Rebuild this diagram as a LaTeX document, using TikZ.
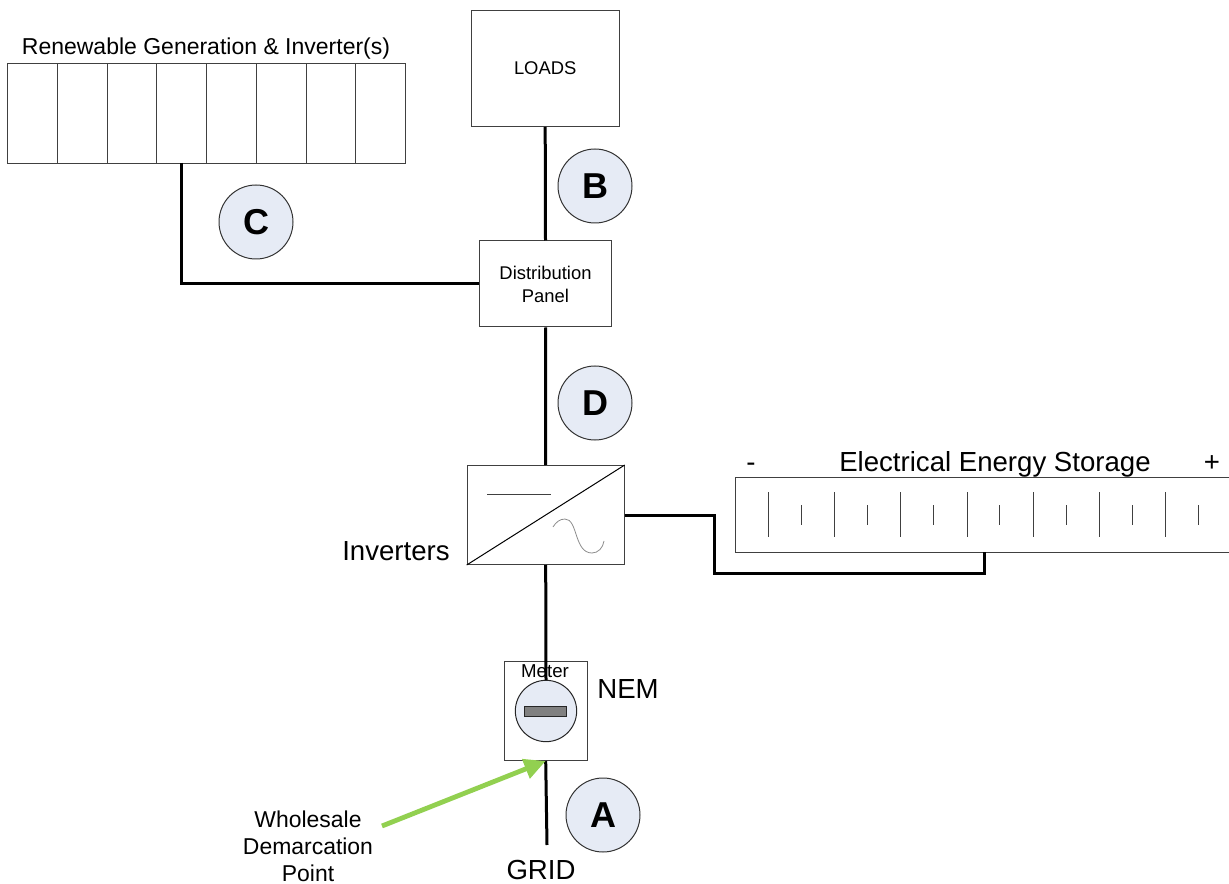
\documentclass[tikz,border=0pt]{standalone}
\usepackage{fontspec}
\setmainfont{Liberation Sans}
\usetikzlibrary{arrows.meta}
\tikzset{
  x=0.75pt,y=-0.75pt,
  box/.style={draw=black!75,line width=0.75pt,fill=white,inner sep=0pt,align=center,font=\fontsize{13.8}{17.2}\selectfont},
  thin line/.style={draw=black!75,line width=0.75pt},
  wire/.style={draw=black,line width=2.25pt,line join=miter},
  badge/.style={circle,draw=black!80,line width=0.75pt,fill=badgefill,minimum size=55.5pt,inner sep=0pt,font=\fontsize{27}{27}\selectfont\bfseries},
  lbl/.style={inner sep=0pt,anchor=base,font=\fontsize{20.7}{24}\selectfont},
  renewlbl/.style={inner sep=0pt,anchor=base,font=\fontsize{17.25}{21}\selectfont},
  smalllbl/.style={inner sep=0pt,font=\fontsize{14}{16}\selectfont,align=center},
  midlbl/.style={inner sep=0pt,font=\fontsize{17.2}{20.25}\selectfont,align=center},
}
\definecolor{badgefill}{HTML}{E6EBF5}
\definecolor{arrowgreen}{HTML}{92D050}
\begin{document}
\begin{tikzpicture}
\useasboundingbox (0,0) rectangle (1229,884);
\clip (0,0) rectangle (1229,884);
\fill[white] (0,0) rectangle (1229,884);

% renewable generation panels
\node[box,minimum width=298.5pt,minimum height=75pt] (solar) at (206.2,113.5) {};
\foreach \px in {57.2,107.2,156.2,206.2,256.2,306.2,355.2}
  \draw[thin line] (\px,63.5) -- (\px,163.5);
\coordinate (solarTap) at (181,163);
\node[renewlbl] (solarLabel) at (206,55) {Renewable Generation \& Inverter(s)};

% loads and panel
\node[box,minimum width=111pt,minimum height=87pt] (loads) at (545.2,68.5) {LOADS};
\node[box,minimum width=99pt,minimum height=64.5pt] (panel) at (545.5,284) {Distribution\\Panel};

% inverter
\node[box,minimum width=117.75pt,minimum height=74.25pt] (inverter) at (545.7,515) {};
\draw[thin line,draw=black] (inverter.south west) -- (inverter.north east);
\draw[thin line] (487,494.5) -- (551,494.5);
\draw[draw=black!45,line width=0.6pt] (553,527) .. controls (556,522) and (560,519) .. (565,519)
  .. controls (578,519) and (574,553) .. (592,553) .. controls (598,553) and (603,548) .. (604,541);
\node[lbl] (invLabel) at (396,560) {Inverters};

% storage
\coordinate (stNW) at (735,477.5);
\coordinate (stSW) at (735,552.5);
\draw[thin line] (1240,477.5) -- (stNW) -- (stSW) -- (1240,552.5);
\foreach \px in {768,834,900,967,1033,1099,1165}
  \draw[thin line] (\px,492) -- (\px,537);
\foreach \px in {801,867,933,999,1066,1132,1198}
  \draw[thin line] (\px,505) -- (\px,525);
\coordinate (stTap) at (984,552);
\node[lbl] (stMinus) at (751,471) {-};
\node[lbl] (stTitle) at (995,471) {Electrical Energy Storage};
\node[lbl] (stPlus) at (1212,471) {+};

% meter
\node[box,minimum width=62.25pt,minimum height=74.25pt] (meter) at (545.7,711) {};
\node[circle,draw=black!85,line width=0.75pt,fill=badgefill,minimum size=46pt,inner sep=0pt] (dial) at (546,711) {};
\node[draw=black!85,line width=0.75pt,fill=black!50,minimum width=31pt,minimum height=7.5pt,inner sep=0pt] (dialBar) at (545.5,711) {};

% wires
\draw[wire] (loads.south) -- (panel.north);
\draw[wire] (panel.south) -- (inverter.north);
\draw[wire] (inverter.south) -- (dial.north);
\draw[wire] (solarTap) -- (181,284) -- (panel.west);
\draw[wire] (inverter.east) -- (714,515) -- (714,573) -- (984,573) -- (stTap);
\coordinate (gridEnd) at (547,845);
\draw[wire] (meter.south) -- (gridEnd);

\node[smalllbl] (meterLabel) at (545,671) {Meter};
\node[lbl] (nem) at (628,698) {NEM};
\node[lbl] (grid) at (541,879) {GRID};

% badges
\node[badge] (B) at (595,186) {B};
\node[badge] (C) at (256,222) {C};
\node[badge] (D) at (595,403) {D};
\node[badge] (A) at (603,815) {A};

% demarcation
\node[midlbl] (whole) at (308,846) {Wholesale\\Demarcation\\Point};
\coordinate (arrowStart) at (382,826);
\draw[draw=arrowgreen,line width=3.6pt,-{Triangle[length=16pt,width=15pt]}] (arrowStart) -- (meter.south);
\end{tikzpicture}
\end{document}
